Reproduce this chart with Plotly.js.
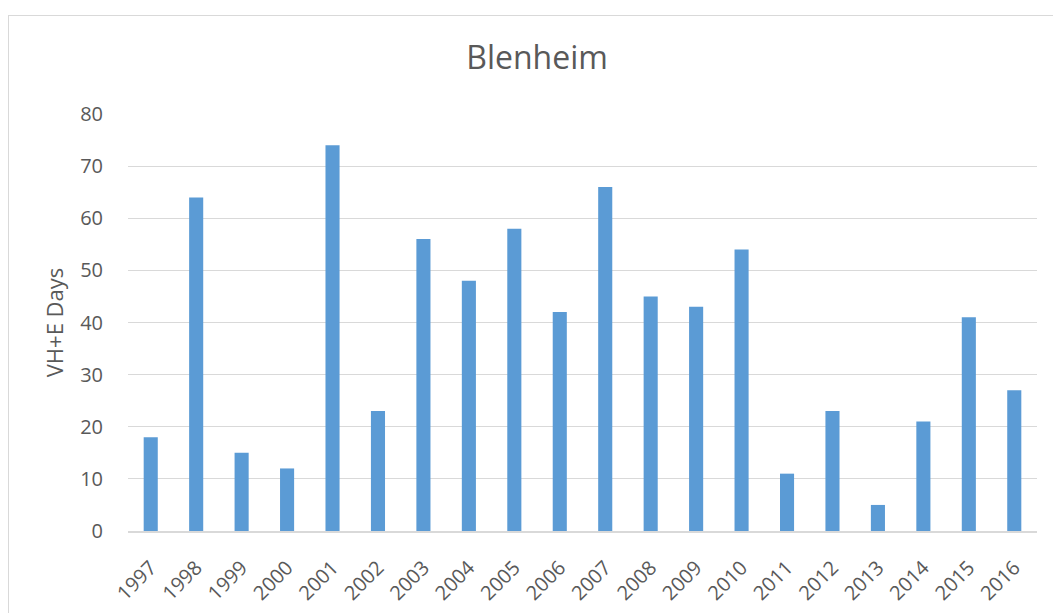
<!DOCTYPE html>
<html>
<head>
<meta charset="utf-8">
<script src="https://cdn.plot.ly/plotly-3.0.1.min.js"></script>
<style>
html,body{margin:0;padding:0;background:#fff;}
#wrap{position:relative;width:1053px;height:613px;overflow:hidden;}
#chart{position:absolute;left:0;top:0;width:1053px;height:613px;}
#frame{position:absolute;left:8px;top:15px;width:1100px;height:700px;border:1.5px solid #d9d9d9;box-sizing:border-box;pointer-events:none;}
</style>
</head>
<body>
<div id="wrap"><div id="chart"></div><div id="frame"></div></div>
<script>
const years = ["1997","1998","1999","2000","2001","2002","2003","2004","2005","2006","2007","2008","2009","2010","2011","2012","2013","2014","2015","2016"];
const days = [18,64,15,12,74,23,56,48,58,42,66,45,43,54,11,23,5,21,41,27];
const yTicks = [0,10,20,30,40,50,60,70,80];

const font = "Open Sans, Liberation Sans, sans-serif";
Plotly.newPlot('chart', [{
  type: 'bar',
  x: years,
  y: days,
  marker: {color: '#5b9bd5'},
  hoverinfo: 'x+y'
}], {
  width: 1053, height: 613,
  margin: {l: 128, r: 16, t: 114, b: 82},
  paper_bgcolor: 'rgba(0,0,0,0)',
  plot_bgcolor: '#fff',
  bargap: 0.69,
  showlegend: false,
  title: {text: 'Blenheim', font: {family: font, size: 32, color: '#595959'}, x: 0.51, xref: 'container', xanchor: 'center', y: 0.905, yanchor: 'middle'},
  xaxis: {
    type: 'category',
    tickangle: -45,
    tickfont: {family: font, size: 20, color: '#595959'},
    showgrid: false,
    showline: true, linecolor: '#d9d9d9', linewidth: 2,
    ticks: 'outside', ticklen: 15, tickcolor: 'rgba(0,0,0,0)',
    automargin: false
  },
  yaxis: {
    range: [0, 80],
    tickvals: yTicks,
    tickfont: {family: font, size: 20, color: '#595959'},
    gridcolor: '#d9d9d9', gridwidth: 1,
    zeroline: false, showline: false,
    ticks: 'outside', ticklen: 20, tickcolor: 'rgba(0,0,0,0)',
    title: {text: 'VH+E Days', font: {family: font, size: 22, color: '#595959'}, standoff: 10},
    automargin: false
  }
}, {displayModeBar: false, staticPlot: true});
</script>
</body>
</html>
